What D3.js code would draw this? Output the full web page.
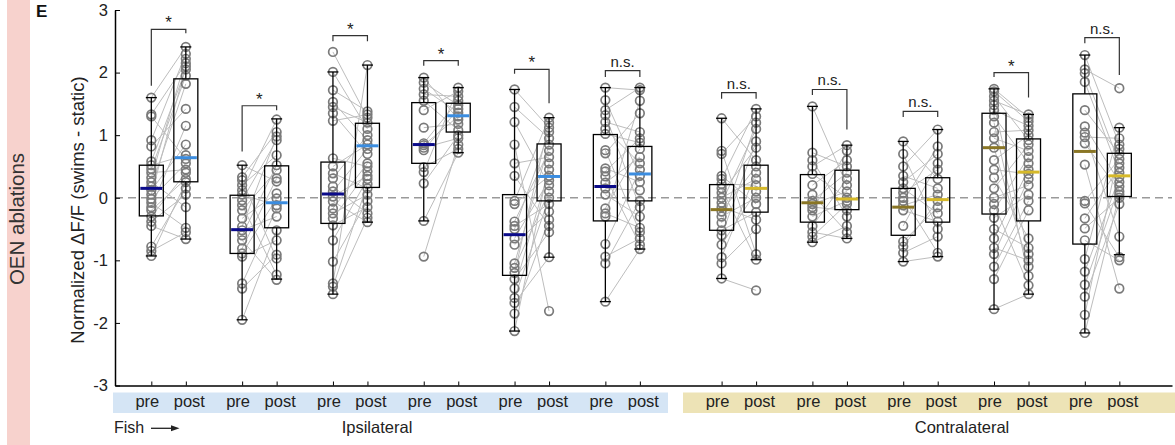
<!DOCTYPE html>
<html><head><meta charset="utf-8">
<script src="https://cdn.jsdelivr.net/npm/d3@7"></script>
<style>body{margin:0;background:#fff} svg{display:block} text{font-family:"Liberation Sans",Arial,sans-serif;fill:#222}</style>
</head><body><svg id="c" width="1175" height="445"></svg>
<script>
// ---- data ----
const groupPos = [0, 1, 2, 3, 4, 5, 6.28, 7.28, 8.28, 9.28, 10.28];
const groupSide = ["ipsi","ipsi","ipsi","ipsi","ipsi","ipsi","contra","contra","contra","contra","contra"];
const condLabels = ["pre", "post"];
const yTicks = [-3, -2, -1, 0, 1, 2, 3];

const pre1  = [1.6,1.33,1.3,0.92,0.82,0.58,0.52,0.46,0.4,0.32,0.25,0.18,0.12,0.05,-0.02,-0.08,-0.15,-0.2,-0.3,-0.38,-0.45,-0.78,-0.85,-0.93];
const post1 = [2.41,2.15,0.62,2.3,1.42,2.05,0.68,1.95,0.45,2.22,-0.15,1.82,0.85,2.1,0.55,-0.48,1.15,0.3,0.4,0.05,-0.66,0.15,-0.55,0.25];
const pre2  = [0.52,0.33,0.28,0.2,0.12,0.05,-0.04,-0.12,-0.2,-0.33,-0.46,-0.52,-0.6,-0.68,-0.81,-0.89,-0.94,-1.37,-1.45,-1.95];
const post2 = [0.26,1.05,-0.97,0.68,1.25,-0.12,0.92,-1.23,0.44,0.07,0.98,-0.3,0.52,-1.31,0.31,-0.01,-0.68,-0.17,-0.91,-0.52];
const pre3  = [2.33,2.01,1.72,1.53,1.45,1.35,1.23,0.63,0.5,0.39,0.31,0.18,0.1,0.02,-0.06,-0.17,-0.25,-0.33,-0.44,-0.68,-1.02,-1.37,-1.42,-1.54];
const post3 = [1.28,1.1,1.38,0.92,1.2,0.7,1.33,0.5,0.85,0.15,1.0,-0.25,0.78,0.35,-0.39,0.55,0.05,0.42,-0.15,0.3,-0.05,2.12,0.22,-0.32];
const pre4  = [1.92,1.84,1.74,1.65,1.55,1.4,1.12,0.87,0.84,0.8,0.76,0.49,0.41,0.23,-0.37,-0.94];
const post4 = [1.25,1.48,1.36,1.62,1.08,1.7,1.18,1.55,1.3,0.95,1.42,0.78,1.76,1.0,0.72,0.85];
const pre5  = [1.73,1.45,1.21,0.85,0.55,0.35,-0.05,-0.1,-0.38,-0.45,-0.5,-0.65,-0.75,-1.05,-1.12,-1.2,-1.3,-1.45,-1.6,-1.68,-1.85,-2.13];
const post5 = [1.12,0.95,0.2,-1.81,0.65,-0.45,1.28,0.35,0.75,-0.1,1.05,0.28,-0.22,0.85,0.1,1.2,-0.55,0.45,0.0,-0.95,-0.35,0.55];
const pre6  = [1.76,1.56,1.4,1.32,1.21,1.1,1.02,0.76,0.71,0.47,0.42,0.34,0.24,0.15,0.05,-0.17,-0.25,-0.3,-0.74,-0.94,-1.05,-1.66];
const post6 = [1.72,0.35,1.76,-0.15,1.05,0.55,0.88,-0.55,1.35,0.25,0.95,-0.75,0.65,0.12,-0.3,0.78,-0.48,1.55,0.45,-0.65,-0.05,-0.82];
const pre7  = [1.27,0.75,0.7,0.35,0.3,0.22,0.15,0.08,0.0,-0.08,-0.15,-0.22,-0.3,-0.4,-0.52,-0.6,-0.75,-0.95,-1.05,-1.29];
const post7 = [0.6,-0.9,1.3,-0.1,1.42,0.2,-0.99,0.8,0.3,1.1,-0.35,0.5,0.0,1.2,-0.23,0.9,0.1,0.4,-0.5,-1.48];
const pre8  = [1.46,0.72,0.6,0.5,0.38,0.2,0.05,-0.05,-0.1,-0.15,-0.2,-0.3,-0.45,-0.55,-0.62,-0.71];
const post8 = [0.2,0.5,-0.3,0.84,0.0,0.6,-0.55,0.4,0.1,-0.2,0.75,-0.05,0.3,-0.65,-0.1,-0.45];
const pre9  = [0.9,0.7,0.5,0.35,0.25,0.15,0.08,0.0,-0.05,-0.12,-0.2,-0.45,-0.7,-0.78,-0.88,-1.02];
const post9 = [0.3,-0.5,1.09,0.15,0.7,-0.25,0.45,-0.88,0.82,0.05,-0.38,0.55,-0.15,-0.05,-0.62,-0.94];
const pre10  = [1.74,1.7,1.62,1.55,1.48,1.4,1.3,1.2,1.05,0.95,0.8,0.6,0.45,0.32,0.15,0.0,-0.1,-0.2,-0.32,-0.5,-0.65,-0.8,-0.9,-1.1,-1.3,-1.78];
const post10 = [1.28,1.22,0.92,1.33,-0.9,1.15,0.55,-1.25,1.08,0.75,-1.1,1.0,0.38,-0.65,0.85,0.2,-1.4,0.65,0.05,-0.8,0.45,-1.0,0.3,-0.05,-0.2,-1.54];
const pre11  = [2.28,2.05,1.99,1.85,1.4,1.14,1.04,0.97,0.87,0.53,-0.05,-0.09,-0.33,-0.49,-0.68,-0.98,-1.18,-1.39,-1.58,-1.87,-2.16];
const post11 = [0.85,1.75,0.55,0.4,0.7,0.25,-0.62,0.95,0.1,-1.45,0.62,-0.95,0.48,0.0,-1.0,1.12,0.33,0.18,-0.1,0.78,0.05];

// box stats: [whisker low, q1, median, q3, whisker high]
const preBox = [
  [-0.93,-0.29,0.15,0.52,1.6],[-1.95,-0.89,-0.51,0.04,0.52],[-1.54,-0.41,0.06,0.57,2.01],
  [-0.37,0.55,0.85,1.52,1.92],[-2.13,-1.24,-0.59,0.05,1.73],[-1.66,-0.37,0.18,1.01,1.76],
  [-1.29,-0.52,-0.19,0.21,1.27],[-0.71,-0.39,-0.08,0.37,1.46],[-1.02,-0.6,-0.15,0.15,0.9],
  [-1.78,-0.26,0.8,1.35,1.74],[-2.16,-0.74,0.74,1.66,2.28]];
const postBox = [
  [-0.66,0.255,0.64,1.9,2.41],[-1.3,-0.48,-0.08,0.51,1.26],[-0.39,0.165,0.83,1.19,2.12],
  [0.72,1.05,1.31,1.51,1.76],[-0.95,-0.05,0.34,0.86,1.28],[-0.82,-0.05,0.38,0.82,1.76],
  [-0.99,-0.23,0.15,0.52,1.42],[-0.65,-0.19,-0.02,0.44,0.84],[-0.94,-0.39,-0.03,0.32,1.09],
  [-1.54,-0.37,0.41,0.94,1.33],[-0.91,0.02,0.35,0.71,1.12]];

// significance annotations (data units)
const sigLabels  = ["*","*","*","*","*","n.s.","n.s.","n.s.","n.s.","*","n.s."];
const sigTop     = [2.69,1.47,2.59,2.19,2.05,2.03,1.68,1.73,1.38,2.0,2.56];
const sigLegPre  = [1.79,0.74,2.50,2.11,1.98,1.93,1.58,1.64,1.29,1.93,2.47];
const sigLegPost = [2.63,1.40,2.50,2.11,1.51,1.93,1.58,1.09,1.29,1.60,1.96];

const preVals  = [pre1,pre2,pre3,pre4,pre5,pre6,pre7,pre8,pre9,pre10,pre11];
const postVals = [post1,post2,post3,post4,post5,post6,post7,post8,post9,post10,post11];

// ---- drawing ----
const svg = d3.select("#c");
const postOffset = 0.38;
const x = d3.scaleLinear().domain([-0.4, 11.24]).range([115, 1172]);
const y = d3.scaleLinear().domain([-3, 3]).range([385.5, 10]);
const medColors = {ipsi: ["#0b0b8a", "#3b8de0"], contra: ["#8a7625", "#d6b92a"]};

// side pink bar
svg.append("rect").attr("x", 7).attr("y", 0).attr("width", 23).attr("height", 445).attr("fill", "#f7d2cd");
svg.append("text").attr("transform", "translate(24,219) rotate(-90)").attr("text-anchor", "middle")
  .style("font-size", "20.5px").style("fill", "#333").text("OEN ablations");
svg.append("text").attr("x", 36).attr("y", 17).style("font-size", "17px").style("font-weight", "bold").style("fill", "#111").text("E");

// bottom bands
svg.append("rect").attr("x", 113).attr("y", 392.5).attr("width", 555).attr("height", 20.5).attr("fill", "#d5e5f5");
svg.append("rect").attr("x", 683).attr("y", 392.5).attr("width", 492).attr("height", 20.5).attr("fill", "#ede3b6");

// zero dashed line
svg.append("line").attr("x1", x.range()[0]).attr("x2", x.range()[1]).attr("y1", y(0)).attr("y2", y(0))
  .attr("stroke", "#9a9a9a").attr("stroke-width", 1.5).attr("stroke-dasharray", "8,5");

// axes
const xTickVals = groupPos.flatMap(p => [p, p + postOffset]);
const yAxis = d3.axisLeft(y).tickValues(yTicks).tickFormat(d => String(d)).tickSizeInner(-5).tickSizeOuter(0).tickPadding(7);
const gy = svg.append("g").attr("transform", `translate(${x.range()[0]},0)`).call(yAxis);
const xAxis = d3.axisBottom(x).tickValues(xTickVals).tickFormat(() => "").tickSizeInner(-4).tickSizeOuter(0);
const gx = svg.append("g").attr("transform", `translate(0,${y(-3)})`).call(xAxis);
[gx, gy].forEach(g => {
  g.select(".domain").attr("stroke", "#000").attr("stroke-width", 1.5);
  g.selectAll(".tick line").attr("stroke", "#000").attr("stroke-width", 1);
  g.selectAll(".tick text").style("font-size", "16.5px").style("fill", "#222").style("font-family", '"Liberation Sans",Arial,sans-serif');
});

// pre/post labels (pre nudged left, post nudged right of its tick)
xTickVals.forEach((v, i) => {
  svg.append("text").attr("x", x(v) + (i % 2 ? 3.5 : -4)).attr("y", 407).attr("text-anchor", "middle")
    .style("font-size", "16.5px").text(condLabels[i % 2]);
});
svg.append("text").attr("x", 377).attr("y", 433).attr("text-anchor", "middle").style("font-size", "16.5px").text("Ipsilateral");
svg.append("text").attr("x", 962).attr("y", 433).attr("text-anchor", "middle").style("font-size", "16.5px").text("Contralateral");
svg.append("text").attr("x", 114).attr("y", 433).style("font-size", "16px").text("Fish");
svg.append("line").attr("x1", 151).attr("x2", 173).attr("y1", 428.3).attr("y2", 428.3).attr("stroke", "#222").attr("stroke-width", 1.3);
svg.append("path").attr("d", "M179.5,428.3 L171,425.3 L171,431.3 Z").attr("fill", "#222");

// y label
svg.append("text").attr("transform", "translate(83.5,210) rotate(-90)").attr("text-anchor", "middle")
  .style("font-size", "18.5px").text("Normalized \u0394F/F (swims - static)");

// groups
groupPos.forEach((p, g) => {
  const xp = x(p), xq = x(p + postOffset);
  const pre = preVals[g], post = postVals[g];
  const gg = svg.append("g");
  gg.selectAll("line.pair").data(d3.range(pre.length)).join("line")
    .attr("x1", xp).attr("x2", xq).attr("y1", i => y(pre[i])).attr("y2", i => y(post[i]))
    .attr("stroke", "#bdbdbd").attr("stroke-width", 1);
  [[xp, pre], [xq, post]].forEach(([cx, vals]) => {
    gg.selectAll(null).data(vals).join("circle")
      .attr("cx", cx).attr("cy", d => y(d)).attr("r", 4.3)
      .attr("fill", "none").attr("stroke", "#7a7a7a").attr("stroke-width", 1.7);
  });
  [[xp, preBox[g], medColors[groupSide[g]][0]], [xq, postBox[g], medColors[groupSide[g]][1]]].forEach(([cx, b, mc]) => {
    const [lo, q1, med, q3, hi] = b;
    const hw = 12, cw = 5.5;
    gg.append("line").attr("x1", cx).attr("x2", cx).attr("y1", y(hi)).attr("y2", y(q3)).attr("stroke", "#000").attr("stroke-width", 1.3);
    gg.append("line").attr("x1", cx).attr("x2", cx).attr("y1", y(q1)).attr("y2", y(lo)).attr("stroke", "#000").attr("stroke-width", 1.3);
    [lo, hi].forEach(v => gg.append("line").attr("x1", cx - cw).attr("x2", cx + cw).attr("y1", y(v)).attr("y2", y(v)).attr("stroke", "#000").attr("stroke-width", 1.3));
    gg.append("rect").attr("x", cx - hw).attr("y", y(q3)).attr("width", 2 * hw).attr("height", y(q1) - y(q3))
      .attr("fill", "none").attr("stroke", "#000").attr("stroke-width", 1.3);
    gg.append("line").attr("x1", cx - hw + 1).attr("x2", cx + hw - 1).attr("y1", y(med)).attr("y2", y(med)).attr("stroke", mc).attr("stroke-width", 3);
  });
  // significance bracket
  gg.append("path").attr("d", `M${xp},${y(sigLegPre[g])} L${xp},${y(sigTop[g])} L${xq},${y(sigTop[g])} L${xq},${y(sigLegPost[g])}`)
    .attr("fill", "none").attr("stroke", "#333").attr("stroke-width", 1.2);
  const isStar = sigLabels[g] === "*";
  gg.append("text").attr("x", (xp + xq) / 2).attr("y", y(sigTop[g]) - (isStar ? 1 : 4)).attr("text-anchor", "middle")
    .style("font-size", isStar ? "17px" : "15px").text(sigLabels[g]);
});
</script></body></html>
